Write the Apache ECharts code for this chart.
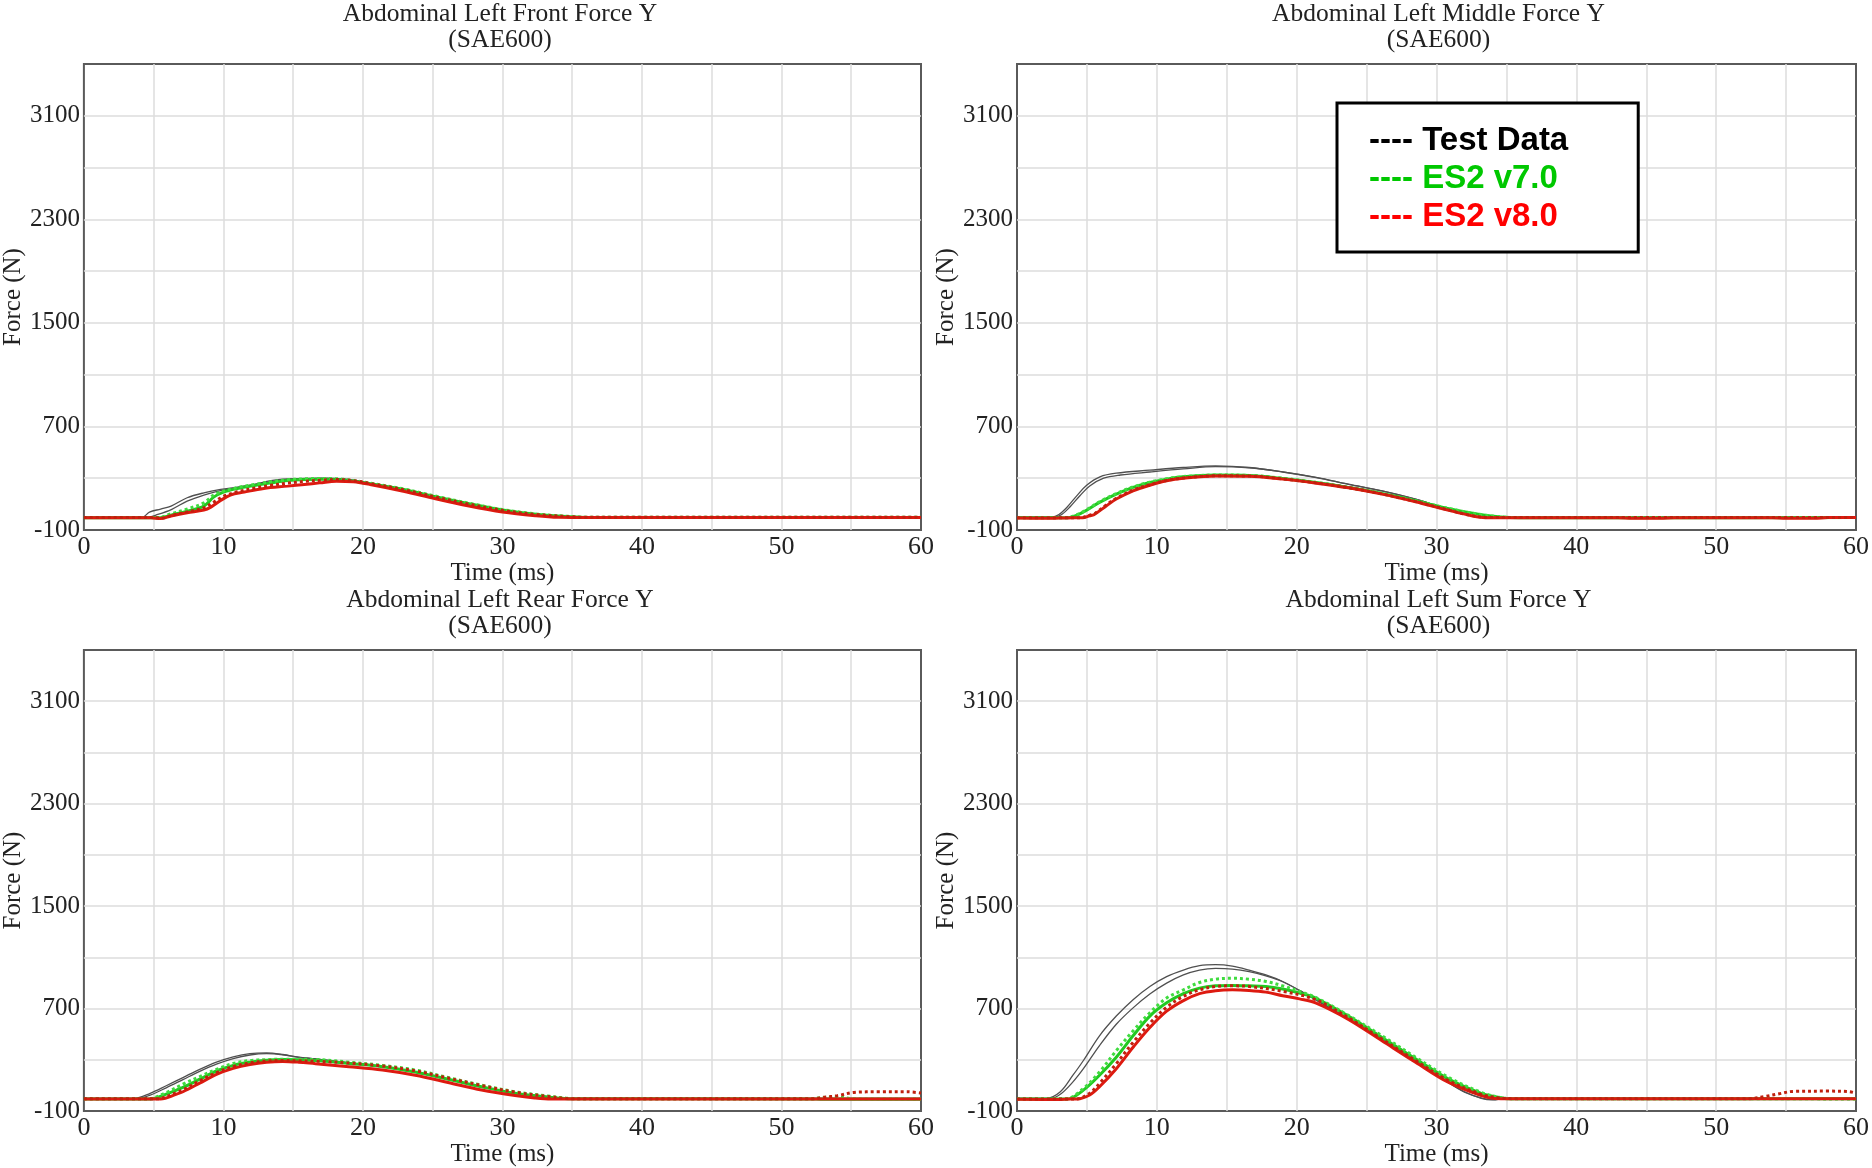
<!DOCTYPE html>
<html>
<head>
<meta charset="utf-8">
<script src="https://cdn.jsdelivr.net/npm/echarts@6/dist/echarts.min.js"></script>
<style>html,body{margin:0;padding:0;background:#fff;}#chart{width:1872px;height:1168px;}</style>
</head>
<body>
<div id="chart"></div>
<script>
// ---------------- data (time in ms, force in N) ----------------
const PANEL_TITLES = ['Abdominal Left Front Force Y', 'Abdominal Left Middle Force Y', 'Abdominal Left Rear Force Y', 'Abdominal Left Sum Force Y'];
const FILTER_LABEL = '(SAE600)';
const SERIES_NAMES = ['Test Data', 'ES2 v7.0', 'ES2 v8.0'];
const X_TICK_LABELS = [0, 10, 20, 30, 40, 50, 60];
const Y_TICK_LABELS = [-100, 700, 1500, 2300, 3100];

// Front
const FRONT_TEST_A = [[0,0],[3.8,0],[4.2,0],[4.7,38],[5.5,62],[6.25,85],[7.4,149],[8.6,187],[9.8,213],[11,231],[12.2,252],[13.4,282],[14.6,295],[15.8,298],[17,300],[18,298],[19.3,285],[20.5,262],[22.9,215],[25.2,158],[27.6,103],[30,52],[32.4,18],[34.5,2],[35.5,0],[36.5,0],[60,0]];
const FRONT_TEST_B = [[0,0],[4.2,0],[4.6,0],[5.3,20],[6.3,60],[7.4,123],[8.6,170],[9.8,205],[12.2,244],[13.4,272],[14.6,290],[16,297],[17.5,299],[18.5,295],[19.5,280],[20.5,258],[22.9,212],[25.2,156],[27.6,101],[30,50],[32.4,17],[34.5,2],[35.5,0],[36.5,0],[60,0]];
const FRONT_V7 = [[0,-5],[5,-5],[5.5,-5],[6.25,15],[7.4,46],[8.6,85],[9.3,154],[10,193],[11,221],[12.2,244],[13.4,264],[14.6,282],[15.8,290],[17,292],[18.1,290],[19.3,277],[20.5,257],[22.9,213],[25.2,157],[27.6,103],[30,54],[32.4,21],[34.8,3],[36,-3],[37,-3],[60,-3]];
const FRONT_V7_DOT = [[0,-3],[4.8,-3],[5.3,-3],[6.25,25],[7.4,62],[8.6,110],[9.3,170],[10,200],[11,228],[12.2,252],[13.4,272],[14.6,288],[15.8,295],[17,298],[18.1,296],[19.3,283],[20.5,262],[22.9,218],[25.2,162],[27.6,107],[30,58],[32.4,24],[34.8,5],[36,-2],[37,-2],[60,-2]];
const FRONT_V8 = [[0,-5],[4.3,-5],[4.8,-5],[5.5,-12],[6.25,8],[7.4,33],[8.6,54],[9.1,77],[9.8,128],[10.5,170],[11.5,193],[12.9,221],[14.6,239],[15.8,252],[16.9,264],[18.1,277],[19.3,272],[20.5,252],[22.9,200],[25.2,141],[27.6,85],[30,39],[32.4,10],[34,-2],[35,-3],[60,-3]];
const FRONT_V8_DOT = [[0,-4],[4.5,-4],[5,-4],[5.6,-8],[6.25,12],[7.4,40],[8.6,70],[9.3,115],[10,160],[11,195],[12.2,222],[13.4,245],[14.6,262],[15.8,275],[17,285],[18.1,290],[19.3,282],[20.5,260],[22.9,212],[25.2,155],[27.6,100],[30,52],[32.4,20],[34.8,3],[36,-2],[37,-2],[60,-2]];

// Middle
const MIDDLE_TEST_A = [[0,0],[2.1,0],[2.5,0],[3.0,20],[3.56,74],[4.27,164],[4.98,246],[5.93,311],[7.1,339],[9.5,362],[11.9,383],[14.2,395],[16.6,383],[19,349],[21.4,306],[23.7,254],[26.1,203],[28.5,139],[30.8,62],[32.5,10],[33.3,0],[34.3,0],[60,0]];
const MIDDLE_TEST_B = [[0,0],[2.3,0],[2.7,0],[3.2,20],[3.8,80],[4.5,165],[5.2,240],[6.2,300],[7.4,325],[9.5,348],[11.9,372],[14.2,390],[16.6,381],[19,348],[21.4,305],[23.7,253],[26.1,202],[28.5,138],[30.8,60],[32.5,9],[33.3,0],[34.3,0],[60,0]];
const MIDDLE_V7 = [[0,-5],[3.1,-5],[3.6,-5],[4.7,36],[5.9,113],[7.1,177],[8.3,229],[9.5,267],[10.7,293],[11.9,311],[14.2,324],[16.6,321],[19,298],[21.4,267],[23.7,229],[26.1,182],[28.5,126],[30.8,67],[33.2,18],[34.6,0],[36,-5],[45,-5],[60,-3]];
const MIDDLE_V7_DOT = [[0,-4],[3,-4],[3.5,-4],[4.7,40],[5.9,118],[7.1,182],[8.3,233],[9.5,270],[10.7,296],[11.9,313],[14.2,325],[16.6,322],[19,300],[21.4,268],[23.7,230],[26.1,183],[28.5,127],[30.8,68],[33.2,19],[34.8,0],[36,-4],[37,-4],[60,-4]];
const MIDDLE_V8 = [[0,-8],[2,-10],[3,-8],[4.2,-5],[4.7,-5],[5.2,10],[5.5,18],[6.4,87],[7.1,139],[8.3,203],[9.5,246],[10.7,280],[11.9,300],[14.2,318],[16.6,316],[19,293],[21.4,262],[23.7,226],[26.1,177],[28.5,118],[30.8,54],[32.5,10],[33.5,-5],[43,-5],[44,-10],[46,-10],[47,-5],[54,-5],[55,-10],[57,-10],[58,-3],[60,-3]];
const MIDDLE_V8_DOT = [[0,-6],[4,-6],[4.5,-6],[5.2,15],[5.6,30],[6.4,95],[7.1,145],[8.3,208],[9.5,250],[10.7,283],[11.9,302],[14.2,319],[16.6,317],[19,295],[21.4,264],[23.7,228],[26.1,179],[28.5,120],[30.8,56],[32.5,12],[33.8,-4],[35,-4],[60,-4]];

// Rear
const REAR_TEST_A = [[0,0],[3.2,0],[3.6,0],[4.75,39],[5.9,98],[7.1,162],[8.3,226],[9.5,282],[10.7,324],[11.9,349],[13.1,354],[14.25,342],[15.4,321],[16.6,308],[19,277],[21.4,247],[23.75,205],[26.1,149],[28.5,90],[30.9,41],[33.25,13],[34.6,0],[35.6,0],[60,0]];
const REAR_TEST_B = [[0,0],[3.5,0],[3.9,0],[4.75,25],[5.9,82],[7.1,146],[8.3,210],[9.5,266],[10.7,310],[11.9,338],[13.1,348],[14.25,340],[15.4,320],[16.6,307],[19,276],[21.4,246],[23.75,204],[26.1,148],[28.5,89],[30.9,40],[33.25,12],[34.6,0],[35.6,0],[60,0]];
const REAR_V7 = [[0,-5],[4.3,-5],[4.75,-5],[5.9,33],[7.1,85],[8.3,149],[9.5,213],[10.7,257],[11.9,282],[13.1,298],[14.25,303],[16.6,295],[19,272],[21.4,247],[23.75,205],[26.1,149],[28.5,90],[30.9,39],[33.25,10],[34.7,-3],[36,-4],[52,-5],[53,-8],[55,-8],[60,-8]];
const REAR_V7_DOT = [[0,-4],[4.1,-4],[4.6,-4],[5.9,45],[7.1,110],[8.3,170],[9.5,226],[10.7,272],[11.9,295],[13.1,302],[14.25,305],[16.6,303],[19,282],[21.4,257],[23.75,221],[26.1,162],[28.5,103],[30.9,51],[33.25,18],[35,-2],[36,-3],[52,-4],[53,6],[54,10],[55,-2],[56,-5],[60,-6]];
const REAR_V8 = [[0,-5],[5,-5],[5.5,-5],[6.65,33],[7.1,51],[8.3,118],[9.5,187],[10.7,234],[11.9,264],[13.1,282],[14.25,288],[15.4,282],[16.6,270],[19,247],[21.4,221],[23.75,180],[26.1,123],[28.5,64],[30.9,21],[32.3,3],[33.5,-5],[35,-5],[60,-5]];
const REAR_V8_DOT = [[0,-4],[4.7,-4],[5.2,-4],[6.65,45],[7.1,65],[8.3,136],[9.5,200],[10.7,248],[11.9,276],[13.1,292],[14.25,296],[15.4,293],[16.6,290],[19,275],[21.4,252],[23.75,215],[26.1,158],[28.5,100],[30.9,48],[33.25,15],[35,-3],[36,-3],[52.3,-3],[53,8],[54,20],[55.2,46],[57,51],[59,51],[60,41]];

// Sum
const SUM_TEST_A = [[0,0],[1.7,0],[2.1,0],[3.1,51],[4.0,180],[4.75,295],[5.9,488],[7.1,642],[8.3,770],[9.5,873],[10.7,950],[11.9,1001],[13.05,1035],[14.2,1043],[15.4,1032],[16.6,1001],[17.8,963],[19,912],[20.2,842],[21.35,770],[23.7,621],[26.1,462],[28.5,295],[30.8,128],[32,51],[33.2,0],[34,-13],[35,0],[36,0],[60,0]];
const SUM_TEST_B = [[0,0],[2,0],[2.4,0],[3.1,31],[4.0,128],[4.75,231],[5.9,411],[7.1,578],[8.3,706],[9.5,814],[10.7,899],[11.9,963],[13.05,1001],[14.2,1014],[15.4,1009],[16.6,989],[17.8,955],[19,910],[20.2,842],[21.35,770],[23.7,620],[26.1,460],[28.5,292],[30.8,125],[32,48],[33.3,0],[34.2,-10],[35.2,0],[36.2,0],[60,0]];
const SUM_V7 = [[0,-5],[3.1,-5],[3.6,-5],[4.75,64],[5.9,180],[7.1,321],[8.3,488],[9.5,642],[10.7,745],[11.9,817],[13.05,860],[14.2,878],[15.4,881],[16.6,878],[17.8,873],[19,853],[20.2,822],[21.35,783],[23.7,642],[26.1,475],[28.5,308],[30.8,154],[33.2,39],[34.4,8],[35.1,-3],[36,-3],[60,-3]];
const SUM_V7_DOT = [[0,-4],[3,-4],[3.5,-4],[4.75,77],[5.9,205],[7.1,372],[8.3,526],[9.5,668],[10.7,783],[11.9,847],[13.05,904],[14.2,930],[15.4,937],[16.6,930],[17.8,912],[19,878],[20.2,835],[21.35,788],[23.7,647],[26.1,488],[28.5,321],[30.8,167],[33.2,46],[34.6,5],[35.5,-4],[36.5,-4],[52,-4],[60,-5]];
const SUM_V8 = [[0,-8],[3,-10],[3.8,-5],[4.3,-5],[5.2,26],[5.9,90],[7.1,231],[8.3,398],[9.5,552],[10.7,680],[11.9,763],[13.05,817],[14.2,840],[15.4,847],[16.6,842],[17.8,829],[19,801],[20.2,776],[21.35,745],[23.7,616],[26.1,449],[28.5,282],[30.8,128],[33.2,21],[34.2,-2],[35.2,-4],[60,-4]];
const SUM_V8_DOT = [[0,-6],[3.7,-6],[4.2,-6],[5.2,40],[5.9,116],[7.1,270],[8.3,437],[9.5,586],[10.7,711],[11.9,796],[13.05,847],[14.2,873],[15.4,878],[16.6,873],[19,835],[21.35,770],[23.7,629],[26.1,462],[28.5,295],[30.8,141],[33.2,31],[34.4,5],[35.5,-3],[36.5,-3],[52.4,-3],[53.5,15],[54.5,35],[55.5,54],[58,56],[59.5,52],[60,40]];

const PANEL_DATA = [
  [FRONT_TEST_A, FRONT_TEST_B, FRONT_V7, FRONT_V7_DOT, FRONT_V8, FRONT_V8_DOT],
  [MIDDLE_TEST_A, MIDDLE_TEST_B, MIDDLE_V7, MIDDLE_V7_DOT, MIDDLE_V8, MIDDLE_V8_DOT],
  [REAR_TEST_A, REAR_TEST_B, REAR_V7, REAR_V7_DOT, REAR_V8, REAR_V8_DOT],
  [SUM_TEST_A, SUM_TEST_B, SUM_V7, SUM_V7_DOT, SUM_V8, SUM_V8_DOT]
];

// ---------------- layout & style ----------------
const GRIDS = [
  {left: 79, top: 64, width: 842, height: 466},
  {left: 1017, top: 64, width: 843, height: 466},
  {left: 79, top: 650, width: 842, height: 467},
  {left: 1017, top: 650, width: 843, height: 467}
];
const SERIF = 'Liberation Serif';
const TEXT_COL = '#222';
const LINE_STYLES = [
  {name: 0, color: '#505050', width: 1.3, type: 'solid'},
  {name: 0, color: '#505050', width: 1.3, type: 'solid'},
  {name: 1, color: '#22c922', width: 3, type: 'solid'},
  {name: 1, color: '#3fdc3f', width: 3, type: 'dotted'},
  {name: 2, color: '#dd1a10', width: 3, type: 'solid'},
  {name: 2, color: '#c0200e', width: 3, type: 'dotted'}
];

const option = {
  animation: false,
  backgroundColor: '#fff',
  title: GRIDS.map((g, i) => ({
    text: PANEL_TITLES[i] + '\n' + FILTER_LABEL,
    left: g.left + g.width / 2,
    top: g.top - 63,
    textAlign: 'center',
    padding: 0,
    textStyle: {fontFamily: SERIF, fontSize: 25.5, fontWeight: 'normal', color: TEXT_COL, lineHeight: 26}
  })),
  legend: {
    orient: 'vertical',
    left: 1337, top: 103,
    backgroundColor: '#fff',
    borderColor: '#000', borderWidth: 3, borderRadius: 0,
    padding: [19, 70, 19, 26],
    itemGap: 3, itemWidth: 1, itemHeight: 37,
    icon: 'none',
    selectedMode: false,
    formatter: '---- {name}',
    textStyle: {fontFamily: 'Liberation Sans', fontWeight: 'bold', fontSize: 33},
    data: [
      {name: SERIES_NAMES[0], textStyle: {color: '#000000'}},
      {name: SERIES_NAMES[1], textStyle: {color: '#00c800'}},
      {name: SERIES_NAMES[2], textStyle: {color: '#ff0000'}}
    ]
  },
  grid: GRIDS.map(g => Object.assign({show: true, borderColor: '#5a5a5a', borderWidth: 2, backgroundColor: 'transparent', containLabel: false}, g)),
  xAxis: GRIDS.map((g, i) => ({
    type: 'value', gridIndex: i, min: 0, max: 60, interval: 5,
    name: 'Time (ms)', nameLocation: 'middle', nameGap: 25,
    nameTextStyle: {fontFamily: SERIF, fontSize: 25, color: TEXT_COL},
    axisLine: {show: false}, axisTick: {show: false},
    axisLabel: {
      fontFamily: SERIF, fontSize: 26, color: TEXT_COL, margin: 4,
      formatter: v => X_TICK_LABELS.indexOf(v) >= 0 ? String(v) : ''
    },
    splitLine: {show: true, showMinLine: false, showMaxLine: false, lineStyle: {color: '#dcdcdc', width: 1.5}}
  })),
  yAxis: GRIDS.map((g, i) => ({
    type: 'value', gridIndex: i, min: -100, max: 3500, interval: 400,
    name: 'Force (N)', nameLocation: 'middle', nameGap: 56,
    nameTextStyle: {fontFamily: SERIF, fontSize: 25, color: TEXT_COL},
    axisLine: {show: false}, axisTick: {show: false},
    axisLabel: {
      fontFamily: SERIF, fontSize: 25, color: TEXT_COL, margin: 4,
      formatter: v => Y_TICK_LABELS.indexOf(v) >= 0 ? String(v) : ''
    },
    splitLine: {show: true, showMinLine: false, showMaxLine: false, lineStyle: {color: '#dcdcdc', width: 1.5}}
  })),
  series: []
};

PANEL_DATA.forEach((set, p) => {
  set.forEach((data, k) => {
    const st = LINE_STYLES[k];
    option.series.push({
      type: 'line',
      name: SERIES_NAMES[st.name],
      xAxisIndex: p, yAxisIndex: p,
      data: data,
      showSymbol: false, symbol: 'none',
      smooth: 0.35,
      silent: true,
      color: st.color,
      lineStyle: {color: st.color, width: st.width, type: st.type},
      z: 2 + k
    });
  });
});

const chart = echarts.init(document.getElementById('chart'), null, {renderer: 'canvas'});
chart.setOption(option);
</script>
</body>
</html>
